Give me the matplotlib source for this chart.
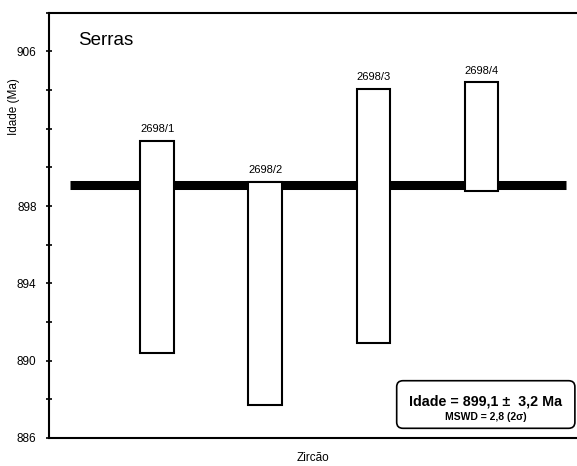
import matplotlib
matplotlib.use("Agg")
import matplotlib.pyplot as plt
from matplotlib.ticker import MultipleLocator
from matplotlib.patches import FancyBboxPatch

plt.rcParams['font.family'] = ['Liberation Sans', 'DejaVu Sans']

# zircon spot data (age ranges, Ma)
labels = ["2698/1", "2698/2", "2698/3", "2698/4"]
positions = [1, 2, 3, 4]
age_low = [890.4, 887.7, 890.9, 898.8]
age_high = [901.35, 899.25, 904.05, 904.4]
mean_age = "899,1"
mean_err = "3,2"
mswd = "2,8"

fig = plt.figure(figsize=(5.77, 4.66), dpi=100)
ax = fig.add_axes([49 / 577, 28 / 466, 1 - 49 / 577, 425.3 / 466])

# weighted mean line
ax.plot([0.19, 4.78], [899.1, 899.1], color='black', lw=6.5, solid_capstyle='butt', zorder=1)

heights = [h - l for h, l in zip(age_high, age_low)]
ax.bar(positions, heights, bottom=age_low, width=0.31, color='white',
       edgecolor='black', linewidth=1.5, zorder=2)
for x, top, lab in zip(positions, age_high, labels):
    ax.text(x, top + 0.35, lab, ha='center', va='bottom', fontsize=8)

ax.set_xlim(0, 4.885)
ax.set_ylim(886, 908)
ax.yaxis.set_minor_locator(MultipleLocator(2))
ax.set_yticks([886, 890, 894, 898, 902, 906])
ax.set_yticklabels(["886", "890", "894", "898", "", "906"])
ax.tick_params(axis='y', which='both', direction='inout', length=4, width=1.2, labelsize=8.5, pad=7)
ax.set_xticks([])
ax.spines['right'].set_visible(False)
for s in ['left', 'bottom', 'top']:
    ax.spines[s].set_linewidth(1.5)

ax.set_ylabel("Idade (Ma)", fontsize=8.5)
ax.yaxis.set_label_coords(-0.055, 0.779)
ax.set_xlabel("Zircão", fontsize=8.5, labelpad=10)
ax.text(0.055, 0.955, "Serras", transform=ax.transAxes, fontsize=13.5, va='top', ha='left')

box = FancyBboxPatch((0.6585, 0.0228), 0.3375, 0.1119, boxstyle='round,pad=0,rounding_size=0.012',
                     transform=ax.transAxes, facecolor='white', edgecolor='black', lw=1.2,
                     mutation_aspect=1.2, zorder=3)
ax.add_patch(box)
ax.text(0.8277, 0.0854, "Idade = %s ±  %s Ma" % (mean_age, mean_err), transform=ax.transAxes,
        fontsize=10.3, fontweight='bold', ha='center', va='center', zorder=4)
ax.text(0.8277, 0.050, "MSWD = %s (2σ)" % mswd, transform=ax.transAxes,
        fontsize=7.5, fontweight='bold', ha='center', va='center', zorder=4)

fig.savefig("out.png", dpi=100)
